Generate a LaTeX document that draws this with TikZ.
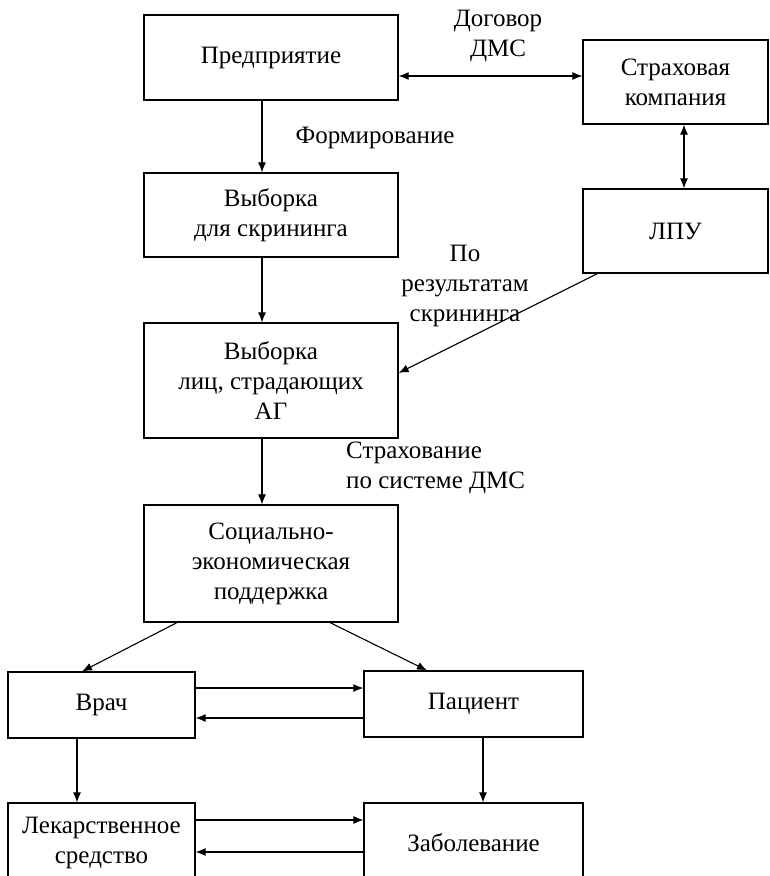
\documentclass[tikz,border=0pt]{standalone}
\usepackage{fontspec}
\setmainfont{Liberation Serif}
\usetikzlibrary{arrows.meta}
\tikzset{
  box/.style={draw, line width=1.2pt, inner sep=0pt, align=center, font=\fontsize{25}{30}\selectfont},
  lbl/.style={inner sep=0pt, align=center, font=\fontsize{25}{30}\selectfont},
  conn/.style={line width=1.1pt, -{Latex[length=10pt,width=8pt]}},
  dconn/.style={line width=1.1pt, {Latex[length=10pt,width=8pt]}-{Latex[length=10pt,width=8pt]}}
}
\begin{document}
\begin{tikzpicture}[x=1pt,y=-1pt]
\useasboundingbox (0,0) rectangle (769,876);
\clip (0,0) rectangle (769,876);
% boxes
\node[box, minimum width=254pt, minimum height=85pt] (pred) at (271,57.5) {Предприятие};
\node[box, minimum width=185pt, minimum height=84pt] (strah) at (675.5,82) {Страховая\\компания};
\node[box, minimum width=185pt, minimum height=84pt] (lpu) at (675.5,231) {ЛПУ};
\node[box, minimum width=254pt, minimum height=84pt] (vyb1) at (271,215) {Выборка\\для скрининга};
\node[box, minimum width=254pt, minimum height=115pt] (vyb2) at (271,380.5) {Выборка\\лиц, страдающих\\АГ};
\node[box, minimum width=254pt, minimum height=117pt] (soc) at (271,563.5) {Социально-\\экономическая\\поддержка};
\node[box, minimum width=187pt, minimum height=66pt] (vrach) at (101.5,705) {Врач};
\node[box, minimum width=219pt, minimum height=66pt] (pac) at (473.5,704) {Пациент};
\node[box, minimum width=187pt, minimum height=80pt] (lek) at (101.5,843) {Лекарственное\\средство};
\node[box, minimum width=219pt, minimum height=80pt] (zab) at (473.5,843) {Заболевание};
% labels
\node[lbl] (l1) at (498,36) {Договор\\ДМС};
\node[lbl] (l2) at (375,138) {Формирование};
\node[lbl] (l3) at (465,286) {По\\результатам\\скрининга};
\node[lbl, anchor=west, align=left] (l4) at (346,468) {Страхование\\по системе ДМС};
% connectors
\coordinate (c1) at ([yshift=6pt]strah.west);
\draw[dconn] (pred.east |- c1) -- (c1);
\draw[dconn] ([xshift=8.5pt]strah.south) -- ([xshift=8.5pt]lpu.north);
\draw[conn] ([xshift=-9pt]pred.south) -- ([xshift=-9pt]vyb1.north);
\draw[conn] ([xshift=-9pt]vyb1.south) -- ([xshift=-9pt]vyb2.north);
\draw[conn] ([xshift=-9pt]vyb2.south) -- ([xshift=-9pt]soc.north);
\draw[conn] ([xshift=15pt]lpu.south west) -- ([yshift=7.5pt]vyb2.east);
\draw[conn] ([xshift=-94pt]soc.south) -- ([xshift=-19.5pt]vrach.north);
\draw[conn] ([xshift=59pt]soc.south) -- ([xshift=-46.5pt]pac.north);
\draw[conn] ([yshift=17pt]vrach.east) -- ([yshift=16pt]pac.west);
\draw[conn] ([yshift=-14pt]pac.west) -- ([yshift=-13pt]vrach.east);
\draw[conn] ([xshift=-24.5pt]vrach.south) -- ([xshift=-24.5pt]lek.north);
\draw[conn] ([xshift=9.5pt]pac.south) -- ([xshift=9.5pt]zab.north);
\draw[conn] ([yshift=23pt]lek.east) -- ([yshift=23pt]zab.west);
\draw[conn] ([yshift=-9pt]zab.west) -- ([yshift=-9pt]lek.east);
\end{tikzpicture}
\end{document}
